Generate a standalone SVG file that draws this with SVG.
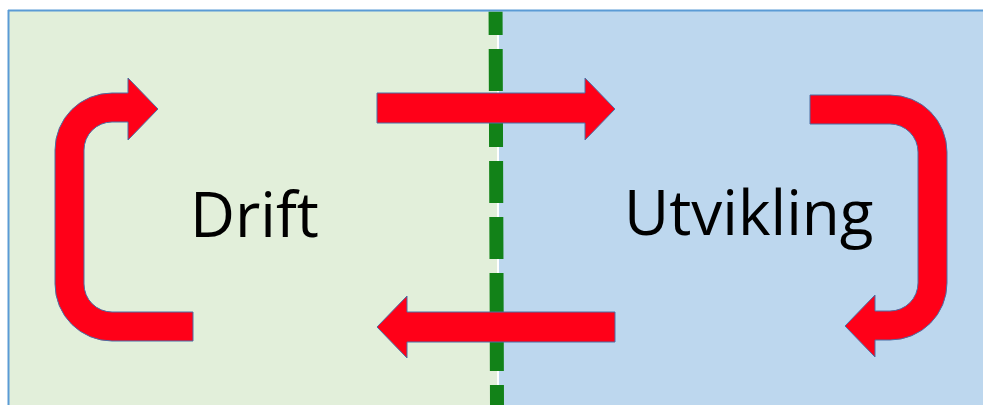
<svg xmlns="http://www.w3.org/2000/svg" width="983" height="405" viewBox="0 0 983 405">
  <style>
    .label { font-family: "Open Sans", "Liberation Sans", sans-serif; font-size: 62px; fill: #000000; }
    .arrow { fill: #FF0018; stroke: #4A6FA5; stroke-width: 1; stroke-linejoin: miter; }
  </style>
  <rect x="0" y="0" width="983" height="405" fill="#FFFFFF"/>
  <g id="drift">
    <rect x="8" y="10.5" width="489" height="400" fill="#E2EFDA"/>
    <text class="label" x="190" y="237">Drift</text>
  </g>
  <g id="utvikling">
    <rect x="499" y="10.5" width="490" height="400" fill="#BDD7EE"/>
    <text class="label" x="624" y="235">Utvikling</text>
  </g>
  <g id="frame">
    <line x1="8" y1="10.5" x2="983" y2="10.5" stroke="#5B9BD5" stroke-width="2"/>
    <line x1="8.5" y1="10" x2="8.5" y2="405" stroke="#5B9BD5" stroke-width="2"/>
  </g>
  <g id="divider">
    <line x1="495.5" y1="-7" x2="497" y2="405" stroke="#128218" stroke-width="14" stroke-dasharray="42 14"/>
    <rect x="480" y="0" width="40" height="11.5" fill="#FFFFFF"/>
    <line x1="480" y1="10.5" x2="520" y2="10.5" stroke="#5B9BD5" stroke-width="2"/>
  </g>
  <g id="connectors">
    <path class="arrow" d="M193,312 L193,341 L112,341 A57,57 0 0 1 55,284 L55,150 A57,57 0 0 1 112,93 L128,93 L128,78 L158,109 L128,140 L128,122 L112,122 A28,28 0 0 0 84,150 L84,284 A28,28 0 0 0 112,312 Z"/>
    <path class="arrow" d="M810,95 L890,95 A57,57 0 0 1 947,152 L947,283 A57,57 0 0 1 890,340 L875,340 L875,357 L845,326 L875,295 L875,311 L890,311 A28,28 0 0 0 918,283 L918,152 A28,28 0 0 0 890,124 L810,124 Z"/>
    <path class="arrow" d="M377,93 L585,93 L585,78 L615,109 L585,140 L585,123 L377,123 Z"/>
    <path class="arrow" d="M615,312 L407,312 L407,296 L377,327 L407,358 L407,342 L615,342 Z"/>
  </g>
</svg>
